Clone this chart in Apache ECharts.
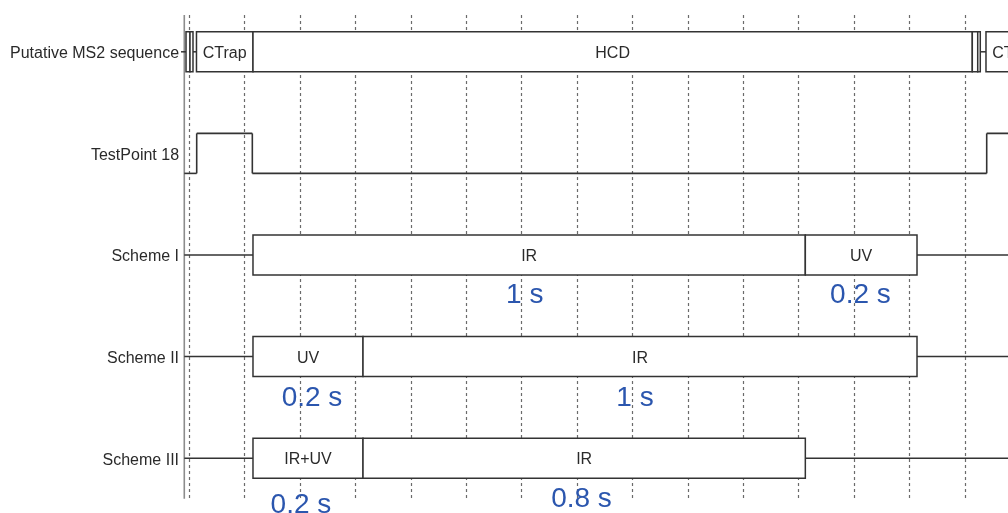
<!DOCTYPE html>
<html>
<head>
<meta charset="utf-8">
<script src="https://cdn.jsdelivr.net/npm/echarts@6/dist/echarts.min.js"></script>
<style>
html,body{margin:0;padding:0;background:#fff;}
#chart{width:1008px;height:513px;}
</style>
</head>
<body>
<div id="chart"></div>
<script>
// ---- data (time in seconds, rows 0..4) ----
const rowLabels = ['Putative MS2 sequence', 'TestPoint 18', 'Scheme I', 'Scheme II', 'Scheme III'];
const gridTimes = [0, 0.1, 0.2, 0.3, 0.4, 0.5, 0.6, 0.7, 0.8, 0.9, 1.0, 1.1, 1.2, 1.3, 1.4];
const axisLineTime = -0.0085;
const labelTime = -0.018;

// Putative MS2 sequence: [start, end, label]
const seqBoxes = [
  [-0.0054, 0.0018, ''],
  [0.0018, 0.0072, ''],
  [0.0135, 0.1155, 'CTrap'],
  [0.1155, 1.4139, 'HCD'],
  [1.4139, 1.4237, ''],
  [1.4237, 1.4283, ''],
  [1.4386, 1.5406, 'CTrap']
];
const seqTicks = [[-0.0144, -0.0054], [0.0072, 0.0135], [1.4283, 1.4386]];

// TestPoint 18: interval edges and level in each interval
const testPointEdges = [-0.0085, 0.0139, 0.1143, 1.4399, 1.50];
const testPointLevels = [0, 1, 0, 1];

// Schemes: [start, end, label]
const schemeI = [[0.1155, 1.1125, 'IR'], [1.1125, 1.3141, 'UV']];
const schemeII = [[0.1155, 0.3141, 'UV'], [0.3141, 1.3141, 'IR']];
const schemeIII = [[0.1155, 0.3141, 'IR+UV'], [0.3141, 1.1125, 'IR']];
const schemeLineEnd = 1.50;

// Duration annotations: [text, centre time, y (row units)]
const annotations = [
  ['1 s', 0.606, 2.374],
  ['0.2 s', 1.212, 2.374],
  ['0.2 s', 0.222, 3.391],
  ['1 s', 0.805, 3.391],
  ['0.2 s', 0.202, 4.441],
  ['0.8 s', 0.7085, 4.382]
];

// ---- layout / style ----
const W = 1008, X0 = 189, PX_PER_S = 554;
const HALF = 20;               // box half height (px)
const FONT = '"Liberation Sans", Arial, sans-serif';
const INK = '#333333';
const gridTopY = -0.362, gridBottomY = 4.40;

const boxData = [];
seqBoxes.forEach(b => boxData.push([b[0], b[1], 0, b[2]]));
[schemeI, schemeII, schemeIII].forEach((s, i) => s.forEach(b => boxData.push([b[0], b[1], i + 2, b[2]])));

const segData = [];
seqTicks.forEach(t => segData.push([t[0], t[1], 0]));
[schemeI, schemeII, schemeIII].forEach((s, i) => {
  const start = s[0][0], end = s[s.length - 1][1];
  segData.push([axisLineTime, start, i + 2]);
  segData.push([end, schemeLineEnd, i + 2]);
});

const tpData = testPointLevels.map((lv, i) => [testPointEdges[i], testPointEdges[i + 1], lv]);

const chart = echarts.init(document.getElementById('chart'), null, {renderer: 'canvas'});
chart.setOption({
  animation: false,
  backgroundColor: '#ffffff',
  grid: {left: 0, right: 0, top: 1, bottom: 4},
  xAxis: {type: 'value', min: -X0 / PX_PER_S, max: (W - X0) / PX_PER_S, show: false},
  yAxis: {type: 'value', inverse: true, min: -0.5, max: 4.5, show: false},
  series: [
    { // dashed time grid
      type: 'custom', silent: true, z: 1,
      data: gridTimes.map(t => [t]),
      renderItem: (p, api) => {
        const a = api.coord([api.value(0), gridTopY]);
        const b = api.coord([api.value(0), gridBottomY]);
        return {type: 'line', shape: {x1: Math.round(a[0]) + 0.5, y1: a[1], x2: Math.round(a[0]) + 0.5, y2: b[1]},
          style: {stroke: '#6a6a6a', lineWidth: 1.2, lineDash: [3, 3]}};
      }
    },
    { // left solid axis line
      type: 'custom', silent: true, z: 2,
      data: [[axisLineTime]],
      renderItem: (p, api) => {
        const a = api.coord([api.value(0), gridTopY]);
        const b = api.coord([api.value(0), gridBottomY]);
        return {type: 'line', shape: {x1: a[0], y1: a[1], x2: a[0], y2: b[1]},
          style: {stroke: '#8c8c8c', lineWidth: 1.6}};
      }
    },
    { // baselines & ticks
      type: 'custom', silent: true, z: 3,
      data: segData,
      renderItem: (p, api) => {
        const a = api.coord([api.value(0), api.value(2)]);
        const b = api.coord([api.value(1), api.value(2)]);
        return {type: 'line', shape: {x1: a[0], y1: a[1], x2: b[0], y2: b[1]},
          style: {stroke: INK, lineWidth: 1.5}};
      }
    },
    { // TestPoint 18 step signal
      type: 'custom', silent: true, z: 3,
      data: tpData,
      renderItem: (p, api) => {
        const a = api.coord([api.value(0), 1]);
        const b = api.coord([api.value(1), 1]);
        const lv = api.value(2);
        const y = lv ? a[1] - HALF : a[1] + HALF;
        const children = [{type: 'line', shape: {x1: a[0], y1: y, x2: b[0], y2: y}, style: {stroke: INK, lineWidth: 1.6}}];
        if (p.dataIndex > 0) {
          children.push({type: 'line', shape: {x1: a[0], y1: a[1] - HALF, x2: a[0], y2: a[1] + HALF}, style: {stroke: INK, lineWidth: 1.6}});
        }
        return {type: 'group', children};
      }
    },
    { // boxes
      type: 'custom', silent: true, z: 4,
      data: boxData,
      renderItem: (p, api) => {
        const a = api.coord([api.value(0), api.value(2)]);
        const b = api.coord([api.value(1), api.value(2)]);
        const label = boxData[p.dataIndex][3];
        const children = [{type: 'rect', shape: {x: a[0], y: a[1] - HALF, width: b[0] - a[0], height: 2 * HALF},
          style: {fill: '#ffffff', stroke: INK, lineWidth: 1.5}}];
        if (label) {
          children.push({type: 'text', style: {text: label, x: (a[0] + b[0]) / 2, y: a[1] + 1.5, align: 'center', verticalAlign: 'middle',
            fill: '#2a2a2a', font: '16px ' + FONT}});
        }
        return {type: 'group', children};
      }
    },
    { // row labels
      type: 'custom', silent: true, z: 5,
      data: rowLabels.map((l, i) => [labelTime, i]),
      renderItem: (p, api) => {
        const a = api.coord([api.value(0), api.value(1)]);
        return {type: 'text', style: {text: rowLabels[p.dataIndex], x: a[0], y: a[1] + 2, align: 'right', verticalAlign: 'middle',
          fill: '#2a2a2a', font: '16px ' + FONT}};
      }
    },
    { // duration annotations
      type: 'custom', silent: true, z: 6,
      data: annotations.map(a => [a[1], a[2]]),
      renderItem: (p, api) => {
        const a = api.coord([api.value(0), api.value(1)]);
        return {type: 'text', style: {text: annotations[p.dataIndex][0], x: a[0], y: a[1] + 2, align: 'center', verticalAlign: 'middle',
          fill: '#2b56ae', font: '28px ' + FONT}};
      }
    }
  ]
});
</script>
</body>
</html>
